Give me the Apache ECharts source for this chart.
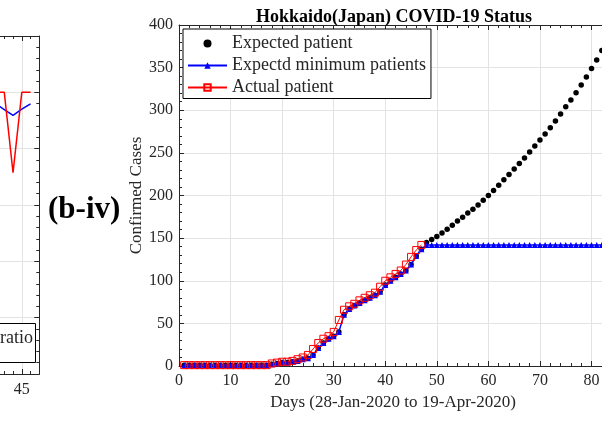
<!DOCTYPE html>
<html>
<head>
<meta charset="utf-8">
<script src="https://cdn.jsdelivr.net/npm/echarts@6/dist/echarts.min.js"></script>
<style>
  html, body { margin: 0; padding: 0; background: #fff; }
  #chart { width: 602px; height: 433px; }
</style>
</head>
<body>
<div id="chart"></div>
<script>
// 北海道 (Hokkaido) 数据, 第 1 天 = 28-Jan-2020
var actualPatient = [
  1, 1, 1, 1, 1, 1, 1, 1, 1, 1, 1, 1, 1, 1, 1, 1, 1,
  3, 4, 5, 5, 6, 8, 10, 13, 20, 27, 32, 35, 40, 54,
  66, 70, 73, 77, 80, 83, 86, 93, 100, 104, 108, 112, 119, 128, 136, 142
];
var minimumPatient = [
  1, 1, 1, 1, 1, 1, 1, 1, 1, 1, 1, 1, 1, 1, 1, 1, 1,
  2, 3, 4, 4, 5, 6, 8, 9, 13, 21, 27, 32, 35, 40,
  60, 67, 71, 74, 77, 80, 83, 87, 95, 100, 104, 108, 112, 119, 129, 137,
  142, 142, 142, 142, 142, 142, 142, 142, 142, 142, 142, 142,
  142, 142, 142, 142, 142, 142, 142, 142, 142, 142, 142, 142,
  142, 142, 142, 142, 142, 142, 142, 142, 142, 142, 142, 142
];
var expectedPatient = [
  1, 1, 1, 1, 1, 1, 1, 1, 1, 1, 1, 1, 1, 1, 1, 1, 1,
  2, 3, 4, 4, 5, 6, 8, 9, 13, 21, 27, 32, 35, 40,
  60, 67, 71, 74, 77, 80, 83, 87, 95, 100, 104, 108, 112, 119, 129, 137,
  145, 148.5, 152, 156, 160.5, 165, 170, 174.5, 179.5, 184, 189, 194.5,
  200, 206, 212, 218.5, 224.5, 231, 237.5, 244, 251, 258, 265, 272,
  279.5, 287.5, 295.5, 304, 312, 320.5, 329.5, 339, 349, 359, 370, 381
];
// 左侧被裁剪的图 (b-iii) 的一部分
var ratioDays = [42, 43, 44, 45, 46];
var ratioRed = [1.0, 1.0, 0.715, 1.0, 1.0];
var ratioBlue = [0.96, 0.939, 0.918, 0.94, 0.959];

var legendNames = ["Expected patient", "Expectd minimum patients", "Actual patient"];

function byDay(arr) {
  return arr.map(function (v, i) { return [i + 1, v]; });
}
function pairs(xs, ys) {
  return xs.map(function (x, i) { return [x, ys[i]]; });
}

var serif = "'Liberation Serif', 'DejaVu Serif', serif";
var ink = "#262626";
var gridColor = "#e3e3e3";

function boxAxis(extra) {
  var base = {
    axisLine: { show: true, onZero: false, lineStyle: { color: ink, width: 1 } },
    axisTick: { show: true, inside: true, length: 5, lineStyle: { color: ink } },
    minorTick: { show: true, splitNumber: 5, length: 3, lineStyle: { color: ink } },
    axisLabel: { show: false },
    splitLine: { show: false }
  };
  return Object.assign(base, extra);
}

var chart = echarts.init(document.getElementById("chart"));
chart.setOption({
  animation: false,
  backgroundColor: "#fff",
  title: {
    text: "Hokkaido(Japan) COVID-19 Status",
    left: 389,
    top: 3,
    textAlign: "center",
    textStyle: { fontFamily: serif, fontWeight: "bold", fontSize: 18, color: "#000" }
  },
  legend: {
    orient: "vertical",
    left: 183,
    top: 29,
    padding: [5.5, 5, 2, 4],
    itemGap: 4,
    itemWidth: 39,
    itemHeight: 8,
    backgroundColor: "#fff",
    borderColor: "#000",
    borderWidth: 1,
    selectedMode: false,
    data: legendNames,
    textStyle: { fontFamily: serif, fontSize: 18, color: ink }
  },
  grid: [
    { left: 179, top: 25, right: -5, bottom: 67, outerBoundsMode: "none", containLabel: false },
    { left: -22, top: 36, width: 61.3, height: 338, outerBoundsMode: "none", containLabel: false }
  ],
  xAxis: [
    boxAxis({
      type: "value", gridIndex: 0, position: "bottom", min: 0, max: 83, interval: 10,
      axisLabel: { show: true, margin: 7, showMaxLabel: false, fontFamily: serif, fontSize: 16, color: ink },
      splitLine: { show: true, lineStyle: { color: gridColor, width: 1 } },
      name: "Days (28-Jan-2020 to 19-Apr-2020)",
      nameLocation: "middle",
      nameGap: 28,
      nameTextStyle: { fontFamily: serif, fontSize: 17, color: ink }
    }),
    boxAxis({ type: "value", gridIndex: 0, position: "top", min: 0, max: 83, interval: 10 }),
    boxAxis({
      type: "value", gridIndex: 1, position: "bottom", min: 40, max: 47, interval: 5,
      axisLabel: { show: true, margin: 8, showMaxLabel: false, fontFamily: serif, fontSize: 16, color: ink },
      splitLine: { show: true, lineStyle: { color: gridColor, width: 1 } }
    }),
    boxAxis({ type: "value", gridIndex: 1, position: "top", min: 40, max: 47, interval: 5 })
  ],
  yAxis: [
    boxAxis({
      type: "value", gridIndex: 0, position: "left", min: 0, max: 400, interval: 50,
      axisLabel: { show: true, margin: 6, fontFamily: serif, fontSize: 16, color: ink },
      splitLine: { show: true, lineStyle: { color: gridColor, width: 1 } },
      name: "Confirmed Cases",
      nameLocation: "middle",
      nameGap: 34,
      nameMoveOverlap: false,
      nameTextStyle: { fontFamily: serif, fontSize: 17, color: ink }
    }),
    boxAxis({
      type: "value", gridIndex: 1, position: "left", min: 0, max: 1.2, interval: 0.2,
      splitLine: { show: true, lineStyle: { color: gridColor, width: 1 } }
    }),
    boxAxis({ type: "value", gridIndex: 1, position: "right", min: 0, max: 1.2, interval: 0.2 })
  ],
  series: [
    {
      name: "Expected patient",
      type: "scatter",
      xAxisIndex: 0, yAxisIndex: 0,
      symbol: "circle",
      symbolSize: 5.5,
      itemStyle: { color: "#000", opacity: 1 },
      data: byDay(expectedPatient)
    },
    {
      name: "Expectd minimum patients",
      type: "line",
      xAxisIndex: 0, yAxisIndex: 0,
      symbol: "triangle",
      symbolSize: 6,
      showAllSymbol: true,
      itemStyle: { color: "#0000ff" },
      lineStyle: { color: "#0000ff", width: 1.5 },
      data: byDay(minimumPatient)
    },
    {
      name: "Actual patient",
      type: "line",
      xAxisIndex: 0, yAxisIndex: 0,
      symbol: "rect",
      symbolSize: 7,
      showAllSymbol: true,
      itemStyle: { color: "rgba(255,0,0,0)", borderColor: "#ff0000", borderWidth: 1 },
      lineStyle: { color: "#ff0000", width: 1 },
      data: byDay(actualPatient)
    },
    {
      name: "ratio (blue)",
      type: "line",
      xAxisIndex: 2, yAxisIndex: 1,
      symbol: "none",
      lineStyle: { color: "#0000ff", width: 1.5 },
      data: pairs(ratioDays, ratioBlue)
    },
    {
      name: "ratio (red)",
      type: "line",
      xAxisIndex: 2, yAxisIndex: 1,
      symbol: "none",
      lineStyle: { color: "#ff0000", width: 1.5 },
      data: pairs(ratioDays, ratioRed)
    }
  ],
  graphic: [
    {
      type: "text",
      left: 48,
      top: 194,
      style: { text: "(b-iv)", fontFamily: serif, fontWeight: "bold", fontSize: 31, fill: "#000" }
    },
    {
      type: "rect",
      z: 100,
      shape: { x: -20, y: 323.5, width: 55.5, height: 39 },
      style: { fill: "#fff", stroke: "#000", lineWidth: 1 }
    },
    {
      type: "text",
      z: 101,
      x: 33,
      y: 338,
      style: { text: "ratio", fontFamily: serif, fontSize: 18, fill: ink, align: "right", verticalAlign: "middle" }
    }
  ]
});
</script>
</body>
</html>
